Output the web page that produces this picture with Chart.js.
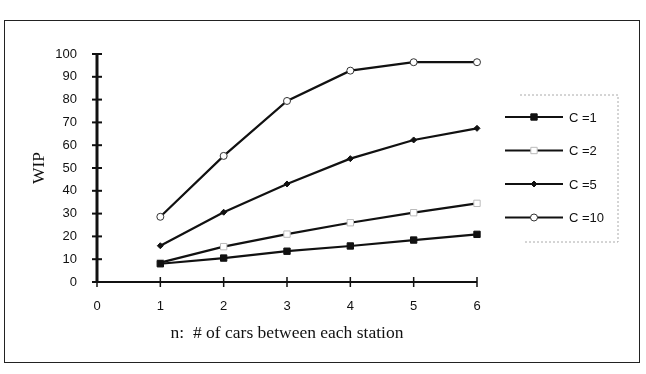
<!DOCTYPE html>
<html>
<head>
<meta charset="utf-8">
<script src="https://cdn.jsdelivr.net/npm/chart.js@4"></script>
<style>
  html, body { margin: 0; padding: 0; background: #fff; }
  #wrap { position: relative; width: 646px; height: 374px; }
  #frame { position: absolute; left: 4px; top: 20px; width: 634px; height: 341px; border: 1.5px solid #222; }
  canvas { position: absolute; left: 0; top: 0; }
</style>
</head>
<body>
<div id="wrap">
  <div id="frame"></div>
  <canvas id="c" width="646" height="374"></canvas>
</div>
<script>
// data
const nValues = [1, 2, 3, 4, 5, 6];
const wipC1 = [8, 10.5, 13.5, 15.8, 18.4, 20.9];
const wipC2 = [8.5, 15.5, 21, 26, 30.4, 34.5];
const wipC5 = [15.9, 30.6, 43, 54.1, 62.3, 67.4];
const wipC10 = [28.6, 55.3, 79.4, 92.7, 96.4, 96.4];
const seriesLabels = ['C =1', 'C =2', 'C =5', 'C =10'];
const xTicks = [0, 1, 2, 3, 4, 5, 6];
const yTicks = [0, 10, 20, 30, 40, 50, 60, 70, 80, 90, 100];

const toPoints = (vals) => vals.map((v, i) => ({ x: nValues[i], y: v }));

const tickFont = { family: 'Liberation Sans', size: 13 };
const titleFont = { family: 'Liberation Serif', size: 17.5 };

// axes with ticks crossing the line, like the original
const crossAxes = {
  id: 'crossAxes',
  beforeDatasetsDraw(chart) {
    const { ctx, scales: { x, y } } = chart;
    const x0 = x.getPixelForValue(0);
    const y0 = y.getPixelForValue(0);
    ctx.save();
    ctx.strokeStyle = '#111';
    // x axis
    ctx.lineWidth = 2;
    ctx.beginPath();
    ctx.moveTo(x0, y0);
    ctx.lineTo(x.getPixelForValue(6), y0);
    ctx.stroke();
    ctx.lineWidth = 1.5;
    xTicks.forEach(t => {
      const px = x.getPixelForValue(t);
      ctx.beginPath();
      ctx.moveTo(px, y0 - 5);
      ctx.lineTo(px, y0 + 5);
      ctx.stroke();
    });
    // y axis
    ctx.lineWidth = 3;
    ctx.beginPath();
    ctx.moveTo(x0, y0 + 1);
    ctx.lineTo(x0, y.getPixelForValue(100) - 1);
    ctx.stroke();
    ctx.lineWidth = 2;
    yTicks.forEach(t => {
      const py = y.getPixelForValue(t);
      ctx.beginPath();
      ctx.moveTo(x0 - 5, py);
      ctx.lineTo(x0 + 5, py);
      ctx.stroke();
    });
    ctx.restore();
  }
};

// legend: line + marker + text inside a faint dotted box
const boxLegend = {
  id: 'boxLegend',
  afterDraw(chart) {
    const ctx = chart.ctx;
    ctx.save();
    ctx.strokeStyle = '#aaa';
    ctx.lineWidth = 1;
    ctx.setLineDash([2, 2]);
    ctx.beginPath();
    ctx.moveTo(520, 95); ctx.lineTo(618, 95); ctx.lineTo(618, 242); ctx.lineTo(525, 242);
    ctx.stroke();
    ctx.setLineDash([]);
    chart.data.datasets.forEach((ds, i) => {
      const ly = 117 + i * 33.5;
      ctx.strokeStyle = '#111';
      ctx.lineWidth = 2;
      ctx.beginPath();
      ctx.moveTo(505, ly);
      ctx.lineTo(563, ly);
      ctx.stroke();
      ctx.fillStyle = ds.pointBackgroundColor;
      ctx.strokeStyle = ds.pointBorderColor;
      ctx.lineWidth = ds.pointBorderWidth;
      Chart.helpers.drawPoint(ctx, { pointStyle: ds.pointStyle, radius: ds.pointRadius, rotation: 0, borderWidth: ds.pointBorderWidth }, 534, ly);
      ctx.fillStyle = '#111';
      ctx.font = '13px "Liberation Sans"';
      ctx.textBaseline = 'middle';
      ctx.fillText(ds.label, 569, ly + 1);
    });
    ctx.restore();
  }
};

const lineBase = { borderColor: '#111', borderWidth: 2.2, showLine: true, clip: false };

new Chart(document.getElementById('c'), {
  type: 'scatter',
  data: {
    datasets: [
      { ...lineBase, label: seriesLabels[0], data: toPoints(wipC1), pointStyle: 'rect', pointRadius: 4.5,
        pointBackgroundColor: '#111', pointBorderColor: '#111', pointBorderWidth: 1 },
      { ...lineBase, label: seriesLabels[1], data: toPoints(wipC2), pointStyle: 'rect', pointRadius: 4.5,
        pointBackgroundColor: '#fff', pointBorderColor: '#bbb', pointBorderWidth: 1 },
      { ...lineBase, label: seriesLabels[2], data: toPoints(wipC5), pointStyle: 'rectRot', pointRadius: 3,
        pointBackgroundColor: '#111', pointBorderColor: '#111', pointBorderWidth: 1 },
      { ...lineBase, label: seriesLabels[3], data: toPoints(wipC10), pointStyle: 'circle', pointRadius: 3.5,
        pointBackgroundColor: '#fff', pointBorderColor: '#333', pointBorderWidth: 1 }
    ]
  },
  options: {
    responsive: false,
    animation: false,
    devicePixelRatio: 1,
    layout: { padding: { left: 20, right: 169, top: 54, bottom: 20 } },
    plugins: { legend: { display: false }, tooltip: { enabled: false } },
    scales: {
      x: {
        type: 'linear', min: 0, max: 6,
        afterBuildTicks: (s) => { s.ticks = xTicks.map(v => ({ value: v })); },
        afterFit: (s) => { s.height = 72; },
        grid: { display: false },
        border: { display: false },
        ticks: { font: tickFont, color: '#111', padding: 9, maxRotation: 0 },
        title: { display: true, text: 'n:  # of cars between each station', font: titleFont, color: '#111', padding: { top: 0, bottom: 10 } }
      },
      y: {
        min: 0, max: 100,
        afterBuildTicks: (s) => { s.ticks = yTicks.map(v => ({ value: v })); },
        afterFit: (s) => { s.width = 77; },
        grid: { display: false },
        border: { display: false },
        ticks: { font: tickFont, color: '#111', padding: 12 },
        title: { display: true, text: 'WIP', font: titleFont, color: '#111', padding: { top: 9, bottom: 0 } }
      }
    }
  },
  plugins: [crossAxes, boxLegend]
});
</script>
</body>
</html>
